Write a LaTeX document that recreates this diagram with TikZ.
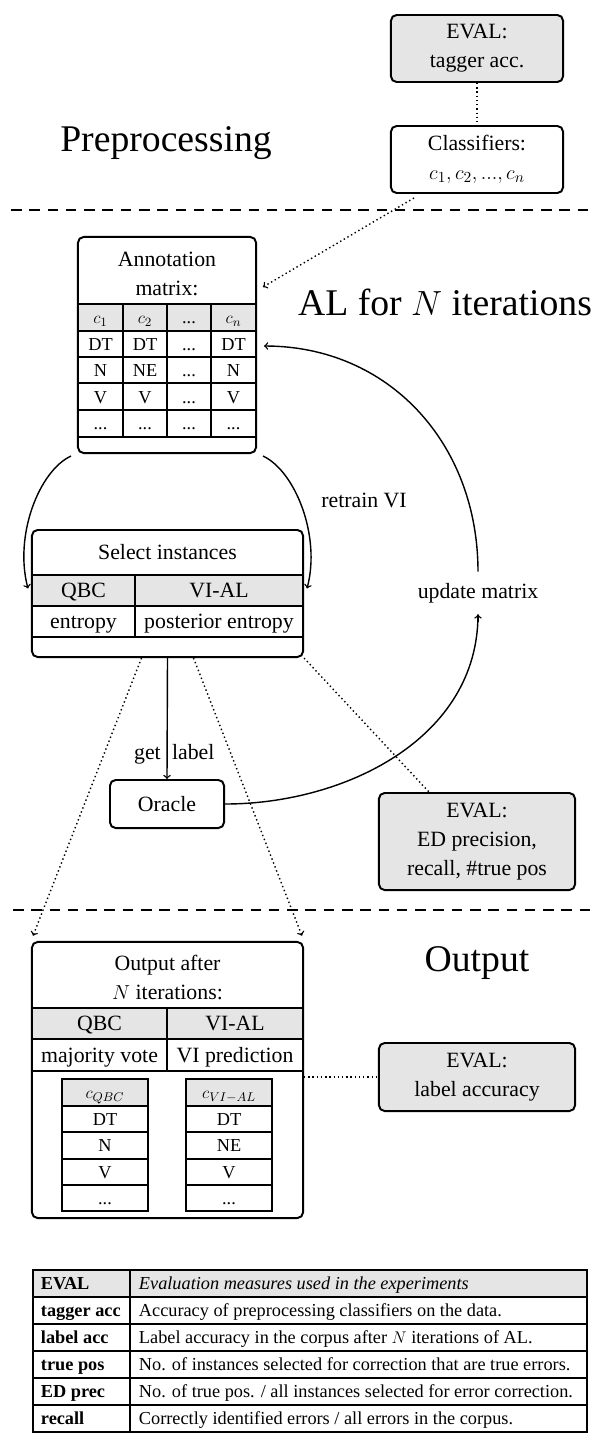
\documentclass[tikz,border=0pt]{standalone}
\usepackage{fontspec}
\setmainfont{Liberation Serif}
\usetikzlibrary{calc}

\newcommand{\mdots}{...}

\tikzset{
  box/.style={draw, line width=1.4pt, rounded corners=4pt, inner sep=0pt},
  evalbox/.style={box, fill=gray!20},
  txt/.style={font=\fontsize{15.5}{20.5}\selectfont},
  big/.style={font=\fontsize{26.8}{32}\selectfont},
  cell/.style={font=\fontsize{13}{15}\selectfont, text height=8.6pt, text depth=0pt},
  rowtxt/.style={txt, text height=10.2pt, text depth=0pt},
  head/.style={fill=gray!20},
  gridline/.style={line width=0.8pt},
  dotline/.style={dotted, line width=1pt},
  curve/.style={->, line width=1pt},
  sectionline/.style={line width=1.4pt, dash pattern=on 7.5pt off 5.5pt},
}

\begin{document}
\begin{tikzpicture}[x=0.025cm, y=-0.025cm, >=to]
\useasboundingbox (0,0) rectangle (595,1441);

% section borders and titles
\draw[sectionline] (11,210)--(595,210);
\draw[sectionline] (13,910)--(595,910);
\node[big] (pre) at (166,143) {Preprocessing};
\node[big] (al) at (445,302) {AL for $N$ iterations};
\node[big] (outtitle) at (477,963) {Output};

% preprocessing
\node[evalbox, txt, align=center, minimum width=4.3cm, minimum height=1.675cm] (tageval) at (477,48.5) {EVAL:\\tagger acc.};
\node[box, txt, align=center, minimum width=4.3cm, minimum height=1.675cm] (classif) at (477,159.5) {Classifiers:\\$c_1, c_2, ..., c_n$};

% annotation matrix
\fill[head] (78,304) rectangle (256,331);
\foreach \y in {304,331,357,383,410,437}
{
    \draw[gridline] (78,\y)--(256,\y);
}
\foreach \x in {123,167,211}
{
    \draw[gridline] (\x,304)--(\x,437);
}
\foreach \a/\b/\c/\d [count=\r] in {$c_1$/$c_2$/\mdots/$c_n$, DT/DT/\mdots/DT, N/NE/\mdots/N, V/V/\mdots/V, \mdots/\mdots/\mdots/\mdots}
{
    \pgfmathsetmacro\yy{317.5+(\r-1)*26.6}
    \node[cell] (m\r-1) at (100.5,\yy) {\a};
    \node[cell] (m\r-2) at (145,\yy) {\b};
    \node[cell] (m\r-3) at (189,\yy) {\c};
    \node[cell] (m\r-4) at (233.5,\yy) {\d};
}
\node[txt, align=center] (annottitle) at (167,274) {Annotation\\matrix:};
\node[box, minimum width=4.45cm, minimum height=5.4cm] (annot) at (167,345) {};

% select instances
\fill[head] (32,575) rectangle (303,606);
\draw[gridline] (32,575)--(303,575) (32,606)--(303,606) (32,637)--(303,637) (135,575)--(135,637);
\node[rowtxt] (seltitle) at (167.5,552) {Select instances};
\node[rowtxt] (selqbc) at (83.5,590.5) {QBC};
\node[rowtxt] (selvi) at (219,590.5) {VI-AL};
\node[rowtxt] (selqbcm) at (83.5,621.5) {entropy};
\node[rowtxt] (selvim) at (219,621.5) {posterior entropy};
\node[box, minimum width=6.775cm, minimum height=3.175cm] (sel) at (167.5,593.5) {};

\node[box, txt, minimum width=2.85cm, minimum height=1.2cm] (oracle) at (167,804) {Oracle};
\node[evalbox, txt, align=center, minimum width=4.9cm, minimum height=2.425cm] (edeval) at (477,841.5) {EVAL:\\ED precision,\\recall, \#true pos};
\node[txt, inner sep=8pt] (upd) at (478,593) {update matrix};
\node[txt] (retrain) at (364,500) {retrain VI};

% output
\fill[head] (32,1008) rectangle (303,1039);
\draw[gridline] (32,1008)--(303,1008) (32,1039)--(303,1039) (32,1071)--(303,1071) (167,1008)--(167,1071);
\node[txt, align=center] (outhead) at (167.5,977.5) {Output after\\$N$ iterations:};
\node[rowtxt] (outqbc) at (99.5,1023.5) {QBC};
\node[rowtxt] (outvi) at (235,1023.5) {VI-AL};
\node[rowtxt] (outqbcm) at (99.5,1055) {majority vote};
\node[rowtxt] (outvim) at (235,1055) {VI prediction};
\foreach \cx/\hd/\ra/\rb/\rc [count=\i] in {105/$c_{QBC}$/DT/N/V, 229/$c_{VI-AL}$/DT/NE/V}
{
    \fill[head] (\cx-43,1079) rectangle (\cx+43,1106);
    \draw[gridline] (\cx-43,1079) rectangle (\cx+43,1211);
    \foreach \y in {1106,1132,1159,1185}
    {
        \draw[gridline] (\cx-43,\y)--(\cx+43,\y);
    }
    \node[cell] (o\i-0) at (\cx,1092.5) {\hd};
    \node[cell] (o\i-1) at (\cx,1119) {\ra};
    \node[cell] (o\i-2) at (\cx,1145.5) {\rb};
    \node[cell] (o\i-3) at (\cx,1172) {\rc};
    \node[cell] (o\i-4) at (\cx,1198) {\mdots};
}
\node[box, minimum width=6.775cm, minimum height=6.9cm] (out) at (167.5,1080) {};
\node[evalbox, txt, align=center, minimum width=4.9cm, minimum height=1.7cm] (labeval) at (477,1077) {EVAL:\\label accuracy};

% connectors
\draw[dotline] (tageval) -- (classif);
\draw[dotline, ->] ($(classif.south west)+(24,4)$) -- ($(annot.north east)+(6,51)$);
\draw[curve] (upd.north) .. controls +(0,-128) and +(125,0) .. ($(annot.east)+(7,1)$);
\draw[curve] ($(annot.south west)+(-6,2)$) .. controls +(-32,15) and +(-14,-53) .. ($(sel.west)+(-3,-5)$);
\draw[curve] ($(annot.south east)+(6,2)$) .. controls +(32,15) and +(14,-53) .. ($(sel.east)+(3,-5)$);
\draw[curve] (sel.south) -- node[pos=0.78, anchor=east, inner sep=4pt, rowtxt] (getl) {get} node[pos=0.78, anchor=west, inner sep=3pt, rowtxt] (labell) {label} (oracle.north);
\draw[curve, -] (oracle.east) .. controls +(120,0) and +(0,124) .. (upd.south);
\draw[curve] ($(upd.south)+(0,8)$) -- (upd.south);
\draw[dotline, ->, shorten >=4pt] ($(sel.south)+(-26,0)$) -- (out.north west);
\draw[dotline, ->, shorten >=4pt] ($(sel.south)+(26,0)$) -- (out.north east);
\draw[dotline] (sel.south east) -- ($(edeval.north west)+(51,0)$);
\draw[dotline] (out.east |- labeval.west) -- (labeval.west);

% measures table
\fill[head] (33,1270) rectangle (587,1297);
\foreach \y in {1297,1324,1351,1378,1405}
{
    \draw[gridline] (33,\y)--(587,\y);
}
\draw[gridline] (33,1270) rectangle (587,1432) (130,1270)--(130,1432);
\foreach \k/\a/\b in {0/EVAL/{\textit{Evaluation measures used in the experiments}},
    1/tagger acc/{Accuracy of preprocessing classifiers on the data.},
    2/label acc/{Label accuracy in the corpus after $N$ iterations of AL.},
    3/true pos/{No. of instances selected for correction that are true errors.},
    4/ED prec/{No. of true pos. / all instances selected for error correction.},
    5/recall/{Correctly identified errors / all errors in the corpus.}}
{
    \node[cell, anchor=west] (t\k-1) at (36,1283.5+27*\k) {\textbf{\a}};
    \node[cell, anchor=west] (t\k-2) at (134,1283.5+27*\k) {\b};
}
\end{tikzpicture}
\end{document}
